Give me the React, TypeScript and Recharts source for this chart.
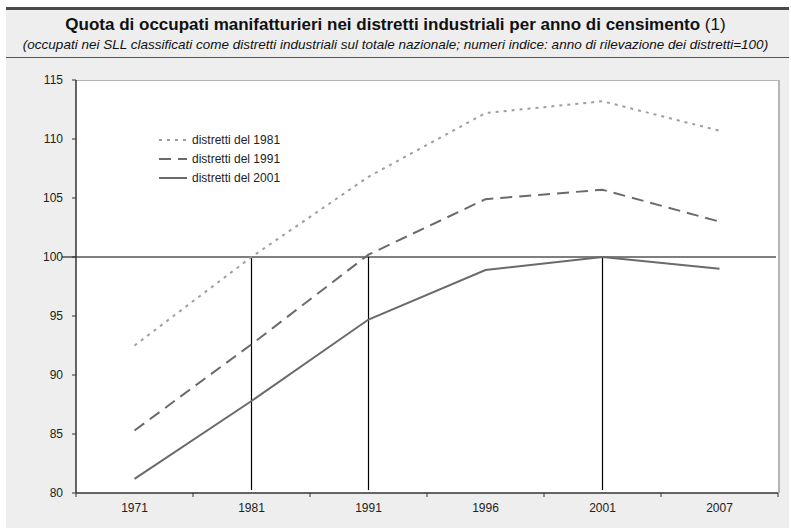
import React from 'react';
import {
  LineChart,
  Line,
  XAxis,
  YAxis,
  ReferenceLine,
  Legend,
} from 'recharts';

// anni di censimento
const years = ['1971', '1981', '1991', '1996', '2001', '2007'];

// numeri indice (anno di rilevazione dei distretti = 100)
const distretti1981 = [92.5, 100, 106.8, 112.2, 113.2, 110.7];
const distretti1991 = [85.3, 92.6, 100.2, 104.9, 105.7, 103.0];
const distretti2001 = [81.2, 87.8, 94.7, 98.9, 100.0, 99.0];

const yTicks = [80, 85, 90, 95, 100, 105, 110, 115];
const markerYears = ['1981', '1991', '2001'];

const data = years.map((year, i) => ({
  year,
  d1981: distretti1981[i],
  d1991: distretti1991[i],
  d2001: distretti2001[i],
}));

const W = 791;
const H = 531;
const plotLeft = 76;
const plotRight = 778;
const plotTop = 80;
const plotBottom = 493;
const band = (plotRight - plotLeft) / years.length;
const font = '"Liberation Sans", Arial, sans-serif';

const XTick = (props: any) => {
  const { x, payload, index } = props;
  return (
    <g>
      <line x1={x - band / 2} y1={plotBottom} x2={x - band / 2} y2={plotBottom + 4} stroke="#333" />
      {index === years.length - 1 && (
        <line x1={x + band / 2} y1={plotBottom} x2={x + band / 2} y2={plotBottom + 4} stroke="#333" />
      )}
      <text x={x} y={plotBottom + 19} textAnchor="middle" fontSize={12} fill="#222" fontFamily={font}>
        {payload.value}
      </text>
    </g>
  );
};

const LegendBox = (props: any) => {
  const { payload } = props;
  return (
    <div style={{ fontFamily: font, fontSize: 12, color: '#222', textAlign: 'left' }}>
      {payload.map((p: any) => (
        <div key={p.value} style={{ display: 'flex', alignItems: 'center', height: 19 }}>
          <svg width={30} height={6} style={{ marginRight: 3 }}>
            <line
              x1={0}
              y1={3}
              x2={28}
              y2={3}
              stroke={p.color}
              strokeWidth={2}
              strokeDasharray={p.payload.strokeDasharray}
            />
          </svg>
          <span>{p.value}</span>
        </div>
      ))}
    </div>
  );
};

export default function App() {
  return (
    <div style={{ position: 'absolute', left: 0, top: 0, width: W, height: H, background: '#fff', fontFamily: font }}>
      <div style={{ position: 'absolute', left: 6, top: 7, width: 783, height: 521, background: '#eeeeee', borderTop: '3px solid #4a4a4a', boxSizing: 'border-box' }} />
      <div style={{ position: 'absolute', left: 6, top: 57, width: 783, height: 1, background: '#555' }} />
      <div style={{ position: 'absolute', left: 0, top: 15, width: W, textAlign: 'center', fontSize: 17, fontWeight: 'bold', color: '#111', lineHeight: '20px' }}>
        Quota di occupati manifatturieri nei distretti industriali per anno di censimento{' '}
        <span style={{ fontWeight: 'normal' }}>(1)</span>
      </div>
      <div style={{ position: 'absolute', left: 0, top: 37, width: W, textAlign: 'center', fontSize: 13.5, fontStyle: 'italic', color: '#111', lineHeight: '16px' }}>
        (occupati nei SLL classificati come distretti industriali sul totale nazionale; numeri indice: anno di rilevazione dei distretti=100)
      </div>
      <div
        style={{
          position: 'absolute',
          left: plotLeft,
          top: plotTop,
          width: plotRight - plotLeft + 2,
          height: plotBottom - plotTop,
          background: '#fff',
          borderTop: '1px solid #b5b5b5',
          borderRight: '2px solid #b5b5b5',
          boxSizing: 'border-box',
        }}
      />
      <div style={{ position: 'absolute', left: 0, top: 0 }}>
        <LineChart width={W} height={H} data={data} margin={{ top: plotTop, right: W - plotRight, bottom: H - plotBottom - 30, left: 0 }}>
          <XAxis
            dataKey="year"
            height={30}
            tick={<XTick />}
            tickLine={false}
            tickSize={0}
            padding={{ left: band / 2, right: band / 2 }}
            axisLine={{ stroke: '#333', strokeWidth: 1.5 }}
            interval={0}
          />
          <YAxis
            width={plotLeft}
            domain={[80, 115]}
            ticks={yTicks}
            interval={0}
            tickSize={4}
            tickMargin={9}
            tick={{ fontSize: 12, fill: '#222', fontFamily: font }}
            tickLine={{ stroke: '#333' }}
            axisLine={{ stroke: '#333', strokeWidth: 1.5 }}
          />
          <ReferenceLine
            y={100}
            stroke="#000"
            strokeWidth={1.2}
            shape={(p: any) => (
              <line x1={p.x1 - 14} y1={p.y1} x2={p.x2 - 2} y2={p.y2} stroke="#000" strokeWidth={1.2} />
            )}
          />
          {markerYears.map((y) => (
            <ReferenceLine
              key={y}
              segment={[
                { x: y, y: 100 },
                { x: y, y: 80.25 },
              ]}
              stroke="#000"
              strokeWidth={1.2}
            />
          ))}
          <Legend
            layout="horizontal"
            verticalAlign="middle"
            align="center"
            content={<LegendBox />}
            wrapperStyle={{ position: 'absolute', left: 159, top: 130, width: 160 }}
          />
          <Line
            type="linear"
            dataKey="d1981"
            name="distretti del 1981"
            stroke="#9e9e9e"
            strokeWidth={2}
            strokeDasharray="3 5"
            dot={false}
            isAnimationActive={false}
          />
          <Line
            type="linear"
            dataKey="d1991"
            name="distretti del 1991"
            stroke="#6a6a6a"
            strokeWidth={2}
            strokeDasharray="12 7"
            dot={false}
            isAnimationActive={false}
          />
          <Line
            type="linear"
            dataKey="d2001"
            name="distretti del 2001"
            stroke="#6a6a6a"
            strokeWidth={2}
            dot={false}
            isAnimationActive={false}
          />
        </LineChart>
      </div>
    </div>
  );
}
